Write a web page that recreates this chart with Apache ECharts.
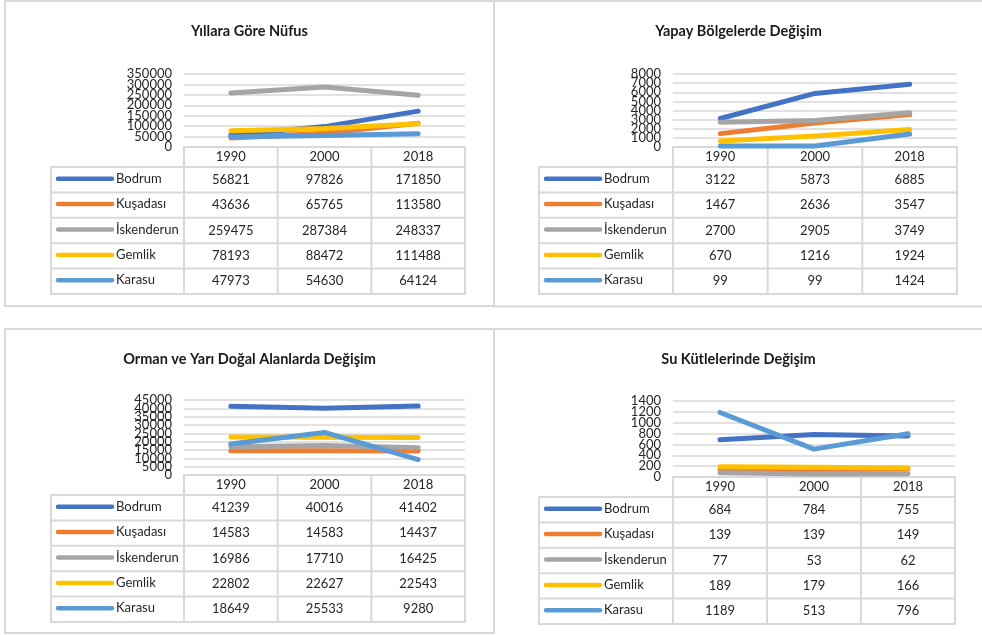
<!DOCTYPE html>
<html>
<head>
<meta charset="utf-8">
<script src="https://cdn.jsdelivr.net/npm/echarts@6/dist/echarts.min.js"></script>
<style>
  html, body { margin: 0; padding: 0; background: #fff; }
  #c { width: 982px; height: 635px; }
</style>
</head>
<body>
<div id="c"></div>
<script>
// Categories and series names
const years = ['1990', '2000', '2018'];
const towns = ['Bodrum', 'Kuşadası', 'İskenderun', 'Gemlik', 'Karasu'];
const colors = ['#4472C4', '#ED7D31', '#A5A5A5', '#FFC000', '#5B9BD5'];

const titles = [
  'Yıllara Göre Nüfus',
  'Yapay Bölgelerde Değişim',
  'Orman ve Yarı Doğal Alanlarda Değişim',
  'Su Kütlelerinde Değişim'
];

// One row per town, one value per year
const nufus = [[56821, 97826, 171850], [43636, 65765, 113580], [259475, 287384, 248337], [78193, 88472, 111488], [47973, 54630, 64124]];
const yapay = [[3122, 5873, 6885], [1467, 2636, 3547], [2700, 2905, 3749], [670, 1216, 1924], [99, 99, 1424]];
const orman = [[41239, 40016, 41402], [14583, 14583, 14437], [16986, 17710, 16425], [22802, 22627, 22543], [18649, 25533, 9280]];
const su = [[684, 784, 755], [139, 139, 149], [77, 53, 62], [189, 179, 166], [1189, 513, 796]];

// Value axis ranges
const yMax = [350000, 8000, 45000, 1400];
const yStep = [50000, 1000, 5000, 200];

const datasets = [nufus, yapay, orman, su];

// Panel layout: title centre, plot rectangle and data-table legend column
const FONT = "Lato, 'Liberation Sans', sans-serif";
const BORDER = '#d9d9d9';
const TEXT = '#262626';
const FS = 13;
const HEAD_H = 20;
const ROW_H = 25.4;

const panels = [
  { tx: 249.5, ty: 31,  grid: { left: 184, top: 74,  width: 281, height: 73 }, legendLeft: 51 },
  { tx: 738.5, ty: 31,  grid: { left: 673, top: 74,  width: 284, height: 73 }, legendLeft: 539 },
  { tx: 249.5, ty: 359, grid: { left: 184, top: 400, width: 281, height: 75 }, legendLeft: 51 },
  { tx: 738.5, ty: 359, grid: { left: 673, top: 401, width: 282, height: 76 }, legendLeft: 539 }
];

function line(x1, y1, x2, y2, w, color) {
  return { type: 'line', silent: true, shape: { x1, y1, x2, y2 },
           style: { stroke: color || BORDER, lineWidth: w || 1.5, lineCap: 'round' } };
}
function text(str, x, y, opts) {
  opts = opts || {};
  return { type: 'text', silent: true, x, y,
           style: { text: str, fill: opts.fill || TEXT,
                    font: (opts.weight || 'normal') + ' ' + (opts.size || FS) + 'px ' + FONT,
                    align: opts.align || 'center', textAlign: opts.align || 'center',
                    verticalAlign: 'middle', textVerticalAlign: 'middle' } };
}

const grids = [], xAxes = [], yAxes = [], series = [];

panels.forEach((p, pi) => {
  const g = p.grid;
  grids.push({ left: g.left, top: g.top, width: g.width, height: g.height });

  xAxes.push({
    type: 'category', gridIndex: pi, data: years, boundaryGap: true,
    axisLine: { show: false }, axisTick: { show: false }, splitLine: { show: false },
    axisLabel: { margin: 10, verticalAlign: 'middle', fontSize: FS, color: TEXT, fontFamily: FONT }
  });
  yAxes.push({
    type: 'value', gridIndex: pi, min: 0, max: yMax[pi], interval: yStep[pi],
    axisLine: { show: false }, axisTick: { show: false },
    axisLabel: { show: false },
    splitLine: { lineStyle: { color: BORDER, width: 1.5 } }
  });

  towns.forEach((name, i) => {
    series.push({
      type: 'line', name, xAxisIndex: pi, yAxisIndex: pi,
      data: datasets[pi][i], symbol: 'none', showSymbol: false,
      lineStyle: { width: 5, color: colors[i], cap: 'round', join: 'round' },
      itemStyle: { color: colors[i] }, silent: true, animation: false
    });
  });
});

const chart = echarts.init(document.getElementById('c'), null, { renderer: 'canvas' });
chart.setOption({
  animation: false,
  backgroundColor: '#ffffff',
  grid: grids,
  xAxis: xAxes,
  yAxis: yAxes,
  series
});

const graphics = [];

// Chart frames
graphics.push(line(5, 1, 494, 1, 2), line(5, 306, 494, 306, 2), line(5, 1, 5, 306, 2), line(494, 1, 494, 306, 2));
graphics.push(line(494, 1, 982, 1, 2), line(494, 306.5, 982, 306.5, 2));
graphics.push(line(5, 329, 494, 329, 2), line(5, 633, 494, 633, 2), line(5, 329, 5, 633, 2), line(494, 329, 494, 633, 2));
graphics.push(line(494, 329, 982, 329, 2));

panels.forEach((p, pi) => {
  const g = p.grid;

  // Title
  graphics.push(text(titles[pi], p.tx, p.ty, { weight: 'bold', size: 14.5, fill: '#1a1a1a' }));

  // Value tick labels, all of them, placed through the axis scale (they overlap slightly)
  for (let v = 0; v <= yMax[pi]; v += yStep[pi]) {
    const y = chart.convertToPixel({ yAxisIndex: pi }, v);
    graphics.push(text(String(v), g.left - 12, y, { align: 'right' }));
  }

  // Data table under the plot
  const right = g.left + g.width;
  const bottom = g.top + g.height;
  const headBottom = bottom + HEAD_H;
  const tableBottom = headBottom + ROW_H * towns.length;
  const colW = g.width / years.length;

  graphics.push(line(g.left, bottom, right, bottom, 2));
  for (let r = 0; r <= towns.length; r++) {
    const y = headBottom + r * ROW_H;
    graphics.push(line(p.legendLeft, y, right, y, 2));
  }
  graphics.push(line(p.legendLeft, headBottom, p.legendLeft, tableBottom, 2));
  for (let c = 0; c <= years.length; c++) {
    const x = g.left + c * colW;
    graphics.push(line(x, bottom, x, tableBottom, 2));
  }

  towns.forEach((name, i) => {
    const cy = headBottom + ROW_H * (i + 0.5);
    graphics.push(line(p.legendLeft + 7, cy - 1, p.legendLeft + 61, cy - 1, 4.5, colors[i]));
    graphics.push(text(name, p.legendLeft + 65, cy - 1, { align: 'left' }));
    datasets[pi][i].forEach((v, j) => {
      graphics.push(text(String(v), g.left + colW * (j + 0.5), cy));
    });
  });
});

chart.setOption({ graphic: { elements: graphics } });
</script>
</body>
</html>
